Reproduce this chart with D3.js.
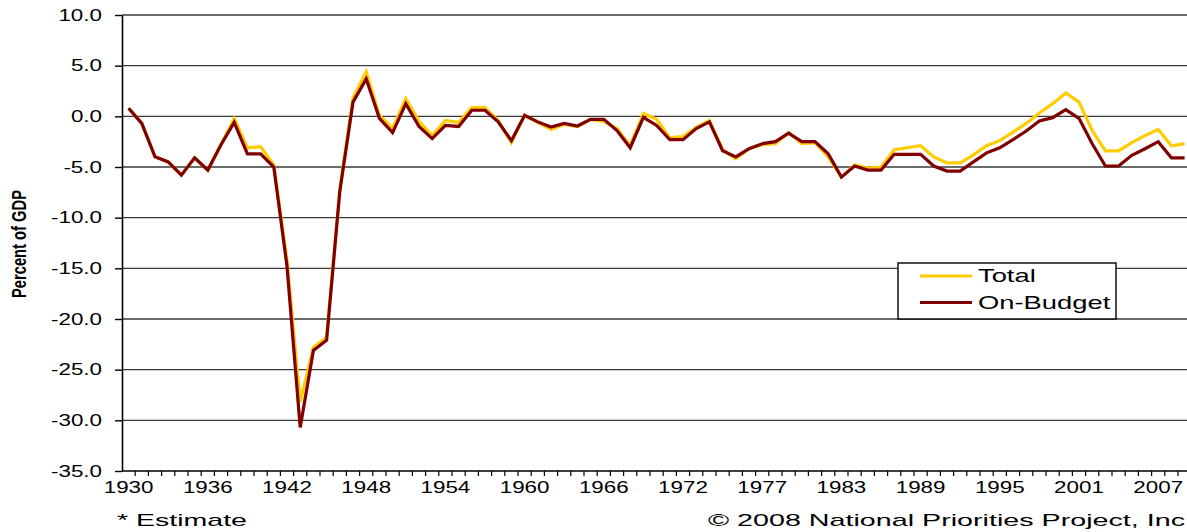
<!DOCTYPE html>
<html>
<head>
<meta charset="utf-8">
<script src="https://cdn.jsdelivr.net/npm/d3@7"></script>
<style>
  body { margin:0; background:#fff; }
  svg { display:block; font-family:"Liberation Sans", Arial, sans-serif; }
</style>
</head>
<body>
<div id="chart"></div>
<script>
// categories (fiscal years, with the 1976 transition quarter)
var years = ["1930","1931","1932","1933","1934","1935","1936","1937","1938","1939",
             "1940","1941","1942","1943","1944","1945","1946","1947","1948","1949",
             "1950","1951","1952","1953","1954","1955","1956","1957","1958","1959",
             "1960","1961","1962","1963","1964","1965","1966","1967","1968","1969",
             "1970","1971","1972","1973","1974","1975","1976","TQ","1977","1978",
             "1979","1980","1981","1982","1983","1984","1985","1986","1987","1988",
             "1989","1990","1991","1992","1993","1994","1995","1996","1997","1998",
             "1999","2000","2001","2002","2003","2004","2005","2006","2007","2008",
             "2009"];

// surplus / deficit, percent of GDP
var total = [0.8,-0.7,-4.0,-4.5,-5.8,-4.1,-5.3,-2.8,-0.2,-3.1,
             -3.0,-4.8,-14.2,-28.2,-22.8,-21.8,-7.2,1.8,4.4,0.1,
             -1.2,1.75,-0.5,-1.9,-0.4,-0.6,0.85,0.85,-0.4,-2.6,
             0.1,-0.6,-1.3,-0.8,-1.0,-0.3,-0.5,-1.2,-2.9,0.3,
             -0.3,-2.1,-2.0,-1.1,-0.4,-3.3,-4.2,-3.2,-2.8,-2.7,
             -1.6,-2.7,-2.6,-4.0,-6.0,-4.8,-5.1,-5.0,-3.3,-3.1,
             -2.9,-4.0,-4.6,-4.6,-3.8,-2.9,-2.4,-1.55,-0.7,0.33,
             1.25,2.3,1.4,-1.4,-3.4,-3.4,-2.6,-1.9,-1.3,-2.9,
             -2.7];

var onBudget = [0.8,-0.7,-4.0,-4.5,-5.8,-4.1,-5.3,-2.8,-0.6,-3.7,
                -3.7,-5.0,-14.8,-30.7,-23.1,-22.1,-7.4,1.4,3.7,-0.2,
                -1.6,1.25,-1.0,-2.2,-0.9,-1.0,0.6,0.6,-0.55,-2.4,
                0.1,-0.55,-1.05,-0.7,-0.95,-0.3,-0.3,-1.4,-3.1,-0.1,
                -0.9,-2.3,-2.3,-1.2,-0.55,-3.4,-4.0,-3.2,-2.7,-2.5,
                -1.65,-2.5,-2.5,-3.7,-6.0,-4.9,-5.3,-5.3,-3.75,-3.75,
                -3.75,-4.9,-5.4,-5.4,-4.5,-3.6,-3.1,-2.3,-1.45,-0.46,
                -0.13,0.66,-0.2,-2.7,-4.9,-4.9,-3.85,-3.2,-2.5,-4.1,
                -4.1];

var yTicks = [10,5,0,-5,-10,-15,-20,-25,-30,-35];
var xLabels = ["1930","1936","1942","1948","1954","1960","1966","1972","1977","1983","1989","1995","2001","2007"];

var seriesNames = ["Total","On-Budget"];
var seriesColors = ["#FFCC00","#800000"];

var fullWidth = 1187, fullHeight = 532;
var plotLeft = 122, plotTop = 15, plotBottom = 471;
var step = 13.2;
var stretch = 1.4;  // picture text is wide

var svg = d3.select("#chart")
            .append("svg")
            .attr("width", fullWidth)
            .attr("height", fullHeight);

var xScale = d3.scaleBand()
               .domain(years)
               .range([plotLeft, plotLeft + step * years.length])
               .padding(0);
var yScale = d3.scaleLinear().domain([-35, 10]).range([plotBottom, plotTop]);

function cx(d) { return xScale(d) + xScale.bandwidth() / 2; }

// grid
svg.append("g")
   .selectAll("line")
   .data(yTicks.filter(function(d){ return d != -35; }))
   .enter()
   .append("line")
   .attr("x1", plotLeft).attr("x2", fullWidth)
   .attr("y1", function(d){ return yScale(d); })
   .attr("y2", function(d){ return yScale(d); })
   .attr("stroke", "#3a3a3a")
   .attr("stroke-width", 1.4);

// y axis
var yAxis = d3.axisLeft(yScale)
              .tickValues(yTicks)
              .tickSize(7)
              .tickSizeOuter(0)
              .tickFormat(function(d){ return d.toFixed(1); });

var gy = svg.append("g")
            .attr("transform", "translate(" + plotLeft + ",0)")
            .call(yAxis);
gy.select(".domain").attr("stroke", "#000").attr("stroke-width", 1.6);
gy.selectAll(".tick line").attr("stroke", "#000").attr("stroke-width", 1.4);
gy.selectAll(".tick text")
  .attr("x", -20 / stretch)
  .attr("transform", "scale(" + stretch + ",1)")
  .style("font-size", "16px")
  .style("font-family", "'Liberation Sans', Arial, sans-serif")
  .attr("fill", "#000");

// x axis: labels on categories, ticks between them
var xAxis = d3.axisBottom(xScale)
              .tickValues(xLabels)
              .tickSize(0)
              .tickPadding(11);

var gx = svg.append("g")
            .attr("transform", "translate(0," + plotBottom + ")")
            .call(xAxis);
gx.select(".domain").remove();
gx.selectAll(".tick text")
  .attr("transform", "scale(" + stretch + ",1)")
  .style("font-size", "16px")
  .style("font-family", "'Liberation Sans', Arial, sans-serif")
  .attr("fill", "#000");

svg.append("line")
   .attr("x1", plotLeft).attr("x2", fullWidth)
   .attr("y1", plotBottom).attr("y2", plotBottom)
   .attr("stroke", "#000").attr("stroke-width", 1.6);

svg.append("g")
   .selectAll("line")
   .data(years)
   .enter()
   .append("line")
   .attr("x1", function(d){ return xScale(d) + xScale.bandwidth(); })
   .attr("x2", function(d){ return xScale(d) + xScale.bandwidth(); })
   .attr("y1", plotBottom).attr("y2", plotBottom + 5)
   .attr("stroke", "#000").attr("stroke-width", 1.2);

// lines
var line = d3.line()
             .x(function(d, i){ return cx(years[i]); })
             .y(function(d){ return yScale(d); });

[total, onBudget].forEach(function(s, k){
  svg.append("path")
     .datum(s)
     .attr("d", line)
     .attr("fill", "none")
     .attr("stroke", seriesColors[k])
     .attr("stroke-width", 3.2)
     .attr("stroke-linejoin", "miter");
});

// legend
var legend = svg.append("g");
legend.append("rect")
      .attr("x", 898).attr("y", 263)
      .attr("width", 218).attr("height", 56)
      .attr("fill", "#fff")
      .attr("stroke", "#000").attr("stroke-width", 1.4);

seriesNames.forEach(function(name, k){
  var ly = 276 + k * 26.5;
  legend.append("line")
        .attr("x1", 920).attr("x2", 972)
        .attr("y1", ly).attr("y2", ly)
        .attr("stroke", seriesColors[k])
        .attr("stroke-width", 3);
  legend.append("text")
        .attr("transform", "translate(978," + (ly + 6) + ") scale(1.52,1)")
        .style("font-size", "18px")
        .attr("fill", "#000")
        .text(name);
});

// axis title
svg.append("text")
   .attr("transform", "translate(26,244) rotate(-90)")
   .attr("text-anchor", "middle")
   .attr("textLength", 108)
   .attr("lengthAdjust", "spacingAndGlyphs")
   .style("font-family", "'Liberation Sans Narrow', 'Arial Narrow', 'Liberation Sans', sans-serif")
   .style("font-weight", "bold")
   .style("font-size", "20px")
   .text("Percent of GDP");

// footer
svg.append("text")
   .attr("x", 117).attr("y", 526)
   .attr("textLength", 130)
   .attr("lengthAdjust", "spacingAndGlyphs")
   .style("font-size", "17px")
   .text("* Estimate");

svg.append("text")
   .attr("x", 708).attr("y", 526)
   .attr("textLength", 477)
   .attr("lengthAdjust", "spacingAndGlyphs")
   .style("font-size", "17px")
   .text("\u00A9 2008 National Priorities Project, Inc");
</script>
</body>
</html>
